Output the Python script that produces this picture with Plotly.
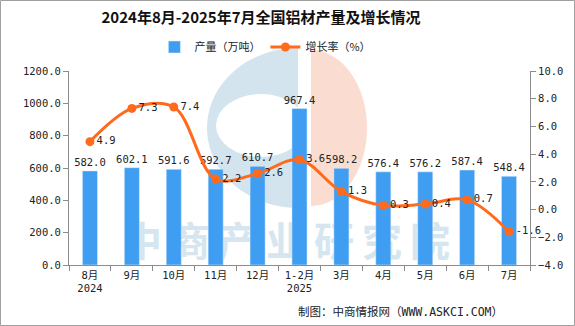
import plotly.graph_objects as go

categories = ["8月<br>2024", "9月", "10月", "11月", "12月", "1-2月<br>2025", "3月", "4月", "5月", "6月", "7月"]
output_values = [582.0, 602.1, 591.6, 592.7, 610.7, 967.4, 598.2, 576.4, 576.2, 587.4, 548.4]
growth_values = [4.9, 7.3, 7.4, 2.2, 2.6, 3.6, 1.3, 0.3, 0.4, 0.7, -1.6]
left_ticks = [0, 200, 400, 600, 800, 1000, 1200]
right_ticks = [-4, -2, 0, 2, 4, 6, 8, 10]

W, H = 575, 326
L, R, T, B = 69, 45, 71, 61
PW, PH = W - L - R, H - T - B


def X(px):
    return (px - L) / PW


def Y(py):
    return (H - B - py) / PH


NUM_FONT = "DejaVu Sans Mono, Noto Sans CJK SC"
CJK_FONT = "Noto Sans CJK SC"
BAR_C = "#3F9EF1"
LINE_C = "#FF6A1C"
AXIS_C = "#8C8C8C"

idx = list(range(len(categories)))

fig = go.Figure()

# watermark (main subplot, drawn below bars)
fig.add_trace(go.Scatter(
    x=[4.68], y=[Y(246)], mode="text", text=["\u2009".join("中商产业研究院")],
    textfont=dict(family=CJK_FONT, size=40, color="#D5E6F1", weight="bold"),
    textposition="middle center", showlegend=False, hoverinfo="skip",
    xaxis="x", yaxis="y", cliponaxis=False,
))

fig.add_trace(go.Bar(
    x=idx, y=output_values, name="产量（万吨）", marker_color=BAR_C,
    width=0.36, text=[f"{v:.1f}" for v in output_values], textposition="outside",
    constraintext="none",
    textfont=dict(family=NUM_FONT, size=10.5, color="#222222"),
    cliponaxis=False, xaxis="x", yaxis="y2",
))

fig.add_trace(go.Scatter(
    x=idx, y=growth_values, name="增长率（%）", mode="lines+markers+text",
    line=dict(color=LINE_C, width=3, shape="spline", smoothing=1),
    marker=dict(color=LINE_C, size=9),
    text=[f"{v:.1f}" for v in growth_values], textposition="middle right",
    textfont=dict(family=NUM_FONT, size=10.5, color="#222222"),
    cliponaxis=False, xaxis="x", yaxis="y3",
))

k = 0.5523
shapes = []
# light blue "G" of the logo
cx, cy, rx, ry = 298, 128, 91, 80
shapes.append(dict(
    type="path", xref="paper", yref="paper", layer="below",
    path=(f"M {X(cx)},{Y(cy-ry)} C {X(cx-k*rx)},{Y(cy-ry)} {X(cx-rx)},{Y(cy-k*ry)} {X(cx-rx)},{Y(cy)} "
          f"C {X(cx-rx)},{Y(cy+k*ry)} {X(cx-k*rx)},{Y(cy+ry)} {X(cx)},{Y(cy+ry)} Z"),
    fillcolor="#D3E4EF", line=dict(width=0),
))
shapes.append(dict(
    type="circle", xref="paper", yref="paper", layer="below",
    x0=X(216), x1=X(306), y0=Y(157), y1=Y(94),
    fillcolor="white", line=dict(width=0),
))
# light orange half of the logo
cx, cy, rx, ry = 311, 128, 56, 78
shapes.append(dict(
    type="path", xref="paper", yref="paper", layer="below",
    path=(f"M {X(cx)},{Y(cy-ry)} C {X(cx+k*rx)},{Y(cy-ry)} {X(cx+rx)},{Y(cy-k*ry)} {X(cx+rx)},{Y(cy)} "
          f"C {X(cx+rx)},{Y(cy+k*ry)} {X(cx+k*rx)},{Y(cy+ry)} {X(cx)},{Y(cy+ry)} Z"),
    fillcolor="#FADDD0", line=dict(width=0),
))
# outer frame
shapes.append(dict(
    type="rect", xref="paper", yref="paper", layer="above",
    x0=X(0.5), x1=X(574.5), y0=Y(325.5), y1=Y(0.5),
    line=dict(color="#A0A0A0", width=1), fillcolor="rgba(0,0,0,0)",
))

fig.update_layout(
    width=W, height=H,
    margin=dict(l=L, r=R, t=T, b=B, pad=0),
    paper_bgcolor="white", plot_bgcolor="rgba(0,0,0,0)",
    title=dict(text="<b>2024年8月-2025年7月全国铝材产量及增长情况</b>",
               x=0.454, xref="container", xanchor="center",
               y=1 - 18 / H, yref="container", yanchor="middle",
               font=dict(family=CJK_FONT, size=15, color="#111111")),
    legend=dict(orientation="h", x=0.426, xanchor="center", y=Y(47), yanchor="middle",
                font=dict(family=CJK_FONT, size=11, color="#222222"),
                bgcolor="rgba(0,0,0,0)", itemwidth=30, tracegroupgap=0),
    shapes=shapes,
    showlegend=True,
    xaxis=dict(
        range=[-0.5, len(categories) - 0.5], tickvals=idx, ticktext=categories,
        ticks="", showline=True, linecolor=AXIS_C, linewidth=1,
        showgrid=False, zeroline=False,
        tickfont=dict(family=NUM_FONT, size=10.5, color="#222222"),
        minor=dict(tickvals=[i - 0.5 for i in range(len(categories) + 1)],
                   ticks="outside", ticklen=5, tickcolor=AXIS_C, showgrid=False),
    ),
    yaxis=dict(range=[0, 1], visible=False, fixedrange=True),
    yaxis2=dict(
        overlaying="y", side="left", anchor="x", range=[0, 1200],
        tickvals=left_ticks, tickformat=".1f",
        ticks="outside", ticklen=5, tickcolor=AXIS_C,
        showline=True, linecolor=AXIS_C, linewidth=1,
        showgrid=False, zeroline=False,
        tickfont=dict(family=NUM_FONT, size=10.5, color="#222222"),
    ),
    yaxis3=dict(
        overlaying="y", side="right", anchor="x", range=[-4, 10],
        tickvals=right_ticks, tickformat=".1f",
        ticks="outside", ticklen=5, tickcolor=AXIS_C,
        showline=True, linecolor=AXIS_C, linewidth=1,
        showgrid=False, zeroline=False,
        tickfont=dict(family=NUM_FONT, size=10.5, color="#222222"),
    ),
    annotations=[dict(
        text="制图：中商情报网（WWW.ASKCI.COM）", xref="paper", yref="paper",
        x=X(505), xanchor="right", y=Y(312), yanchor="middle", showarrow=False,
        font=dict(family=NUM_FONT, size=11.5, color="#222222"),
    )],
)

fig.write_html("out.html")
